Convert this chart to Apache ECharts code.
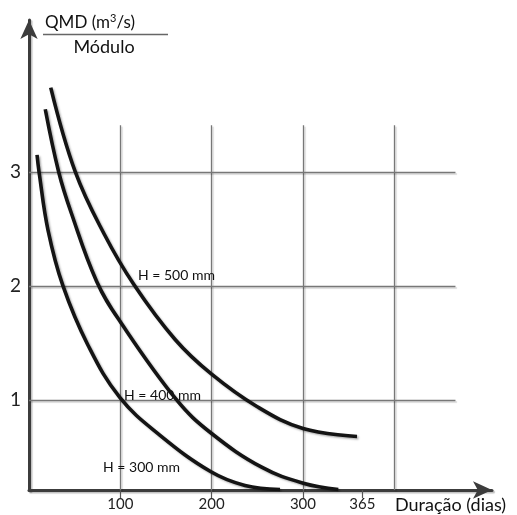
<!DOCTYPE html>
<html><head><meta charset="utf-8">
<script src="https://cdn.jsdelivr.net/npm/echarts@6/dist/echarts.min.js"></script>
<style>html,body{margin:0;padding:0;background:#fff}#c{width:517px;height:515px}</style>
</head><body><div id="c"></div>
<script>
// Data (duration in days, QMD/Module)
const h500 = [[23.8,3.74],[50.7,3.0],[82,2.46],[115,2.01],[160,1.53],[199.3,1.23],[250,0.94],[300.1,0.75],[359.2,0.68]];
const h400 = [[17.8,3.55],[32.5,3.0],[46.3,2.64],[74.1,2.04],[99.6,1.69],[161.7,1.0],[199.3,0.71],[254.8,0.41],[300.4,0.27],[338.7,0.215]];
const h300 = [[8.8,3.15],[11.0,3.0],[20.8,2.49],[37.2,2.0],[64.6,1.48],[99.6,1.02],[143.5,0.69],[199.3,0.37],[236.5,0.25],[274.9,0.215]];
const seriesNames = ['H = 500 mm','H = 400 mm','H = 300 mm'];
const labelPos = [[161.5,2.09],[146.2,1.04],[123.2,0.41]];
const xTicks = [100,200,300,365];
const xGrid = [100,200,300,400];
const yTicks = [1,2,3];
const xMin = 0, xMax = 507, yMin = 0.21, yMax = 4.333;
const xGridTop = 3.41, yGridRight = 467;

const FONT = 'Lato';
const chart = echarts.init(document.getElementById('c'));
const curveStyle = {color:'#141414', width:3.6, shadowColor:'rgba(0,0,0,0.3)', shadowBlur:2, shadowOffsetX:1.5, shadowOffsetY:1.5};
const gridLines = [];
xGrid.forEach(v => gridLines.push([{coord:[v,yMin]},{coord:[v,xGridTop]}]));
yTicks.forEach(v => gridLines.push([{coord:[xMin,v]},{coord:[yGridRight,v]}]));

const curves = [h500,h400,h300].map((d,i) => ({
  type:'line', data:d, smooth:0.4, symbol:'none', z:5,
  lineStyle:curveStyle,
  markPoint:{symbol:'circle', symbolSize:0, silent:true,
    data:[{coord:labelPos[i], label:{show:true, formatter:seriesNames[i], color:'#111', fontSize:14, fontFamily:FONT, position:'inside'}}]}
}));

const axisLineStyle = {color:'#3c3c3c', width:3, shadowColor:'rgba(0,0,0,0.25)', shadowOffsetX:1.5, shadowOffsetY:1.5, shadowBlur:1};
chart.setOption({
  animation:false,
  grid:{left:29,right:25,top:20,bottom:25},
  xAxis:{type:'value', min:xMin, max:xMax,
    axisLine:{show:true, symbol:['none','arrow'], symbolSize:[13,19], lineStyle:axisLineStyle},
    axisTick:{show:true, customValues:xTicks, length:8, lineStyle:{color:'#555', width:1.2}},
    axisLabel:{customValues:xTicks, color:'#222', fontSize:15, fontFamily:FONT, margin:7},
    splitLine:{show:false}},
  yAxis:{type:'value', min:yMin, max:yMax,
    axisLine:{show:true, symbol:['none','arrow'], symbolSize:[13,19], lineStyle:axisLineStyle},
    axisTick:{show:false},
    axisLabel:{customValues:yTicks, color:'#222', fontSize:19, fontFamily:FONT, margin:8},
    splitLine:{show:false}},
  series:[{type:'line', data:[], markLine:{silent:true, symbol:'none', label:{show:false},
      lineStyle:{color:'#777', width:1.3, type:'solid', shadowColor:'rgba(0,0,0,0.18)', shadowOffsetX:1.5, shadowOffsetY:1.5, shadowBlur:1},
      data:gridLines}, z:1}].concat(curves),
  graphic:[
    {type:'text', style:{x:45, y:23, verticalAlign:'middle', text:'{a|QMD (m}{s|3}{a|/s)}', rich:{a:{fontSize:17, fontFamily:FONT, fill:'#111'}, s:{fontSize:11, fontFamily:FONT, fill:'#111', verticalAlign:'top', padding:[0,0,9,0]}}}},
    {type:'line', shape:{x1:43,y1:34.5,x2:168,y2:34.5}, style:{stroke:'#666', lineWidth:1.3}},
    {type:'text', style:{x:104, y:47, align:'center', verticalAlign:'middle', text:'Módulo', fontSize:18, fontFamily:FONT, fill:'#111'}},
    {type:'text', style:{x:395, y:505, verticalAlign:'middle', text:'Duração (dias)', fontSize:18, fontFamily:FONT, fill:'#111'}}
  ]
});
</script></body></html>
